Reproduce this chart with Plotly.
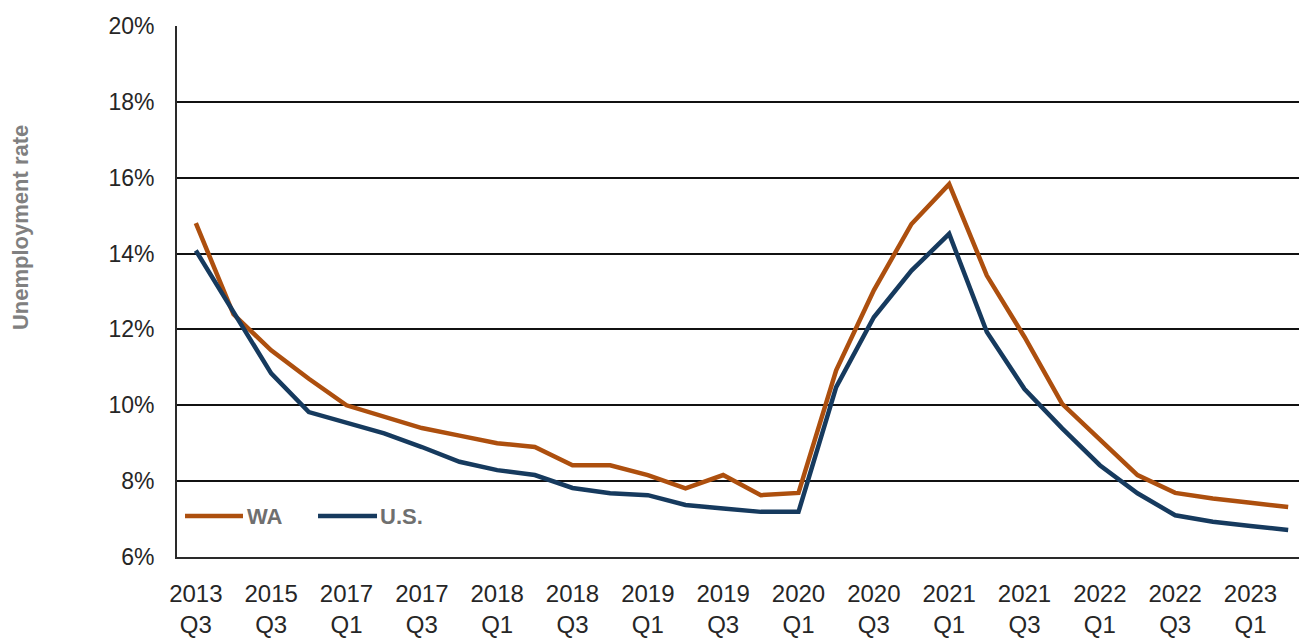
import plotly.graph_objects as go

# Tick labels (shown at every other period)
tick_labels = ["2013<br>Q3", "2015<br>Q3", "2017<br>Q1", "2017<br>Q3", "2018<br>Q1",
               "2018<br>Q3", "2019<br>Q1", "2019<br>Q3", "2020<br>Q1", "2020<br>Q3",
               "2021<br>Q1", "2021<br>Q3", "2022<br>Q1", "2022<br>Q3", "2023<br>Q1"]

# Unemployment rate (%) per period
wa = [14.8, 12.4, 11.45, 10.7, 10.0, 9.7, 9.4, 9.2, 9.0, 8.9,
      8.42, 8.42, 8.16, 7.81, 8.16, 7.63, 7.69, 10.92, 13.03, 14.78,
      15.83, 13.42, 11.8, 10.04, 9.08, 8.16, 7.69, 7.54, 7.43, 7.32]
us = [14.08, 12.45, 10.84, 9.82, 9.53, 9.26, 8.9, 8.51, 8.29, 8.16,
      7.82, 7.68, 7.63, 7.37, 7.28, 7.19, 7.19, 10.48, 12.32, 13.55,
      14.52, 11.93, 10.43, 9.39, 8.42, 7.68, 7.1, 6.93, 6.82, 6.71]

series_names = ["WA", "U.S."]
colors = ["#AD4F0E", "#163A5E"]

x = list(range(len(wa)))
tick_pos = x[::2]

fig = go.Figure()
for name, vals, col in zip(series_names, [wa, us], colors):
    fig.add_trace(go.Scatter(x=x, y=vals, mode="lines", name=name,
                             line=dict(color=col, width=4.5), showlegend=False))

FONT = "Liberation Sans, Arial, sans-serif"

fig.update_layout(
    width=1299, height=636,
    margin=dict(l=169, r=0, t=18, b=87),
    paper_bgcolor="white", plot_bgcolor="white",
    font=dict(family=FONT, size=24, color="#262626"),
    xaxis=dict(range=[-0.5, len(wa) - 0.5], tickmode="array", tickvals=tick_pos,
               ticktext=tick_labels, showgrid=False, zeroline=False,
               showline=True, linecolor="#2a2a2a", linewidth=1.8,
               ticks="", ticklabelstandoff=14, tickfont=dict(size=24, color="#262626")),
    yaxis=dict(range=[6, 20], dtick=2, ticksuffix="%", showgrid=True,
               gridcolor="#111111", gridwidth=1.7, zeroline=False,
               showline=True, linecolor="#2a2a2a", linewidth=1.8,
               ticks="", ticklabelstandoff=16, tickfont=dict(size=23, color="#262626")),
    annotations=[
        dict(text="<b>Unemployment rate</b>", xref="paper", yref="paper",
             x=-0.138, y=0.6196, xanchor="center", yanchor="middle",
             textangle=-90, showarrow=False,
             font=dict(family=FONT, size=22, color="#808080")),
        dict(text="<b>WA</b>", xref="paper", yref="paper", x=0.0600, y=0.0772,
             xanchor="left", yanchor="middle", showarrow=False,
             font=dict(family=FONT, size=22, color="#6f6f6f")),
        dict(text="<b>U.S.</b>", xref="paper", yref="paper", x=0.1778, y=0.0772,
             xanchor="left", yanchor="middle", showarrow=False,
             font=dict(family=FONT, size=22, color="#6f6f6f")),
    ],
    shapes=[
        dict(type="line", xref="paper", yref="paper", x0=0.0071, x1=0.0584,
             y0=0.0772, y1=0.0772, line=dict(color=colors[0], width=4.5)),
        dict(type="line", xref="paper", yref="paper", x0=0.1248, x1=0.177,
             y0=0.0772, y1=0.0772, line=dict(color=colors[1], width=4.5)),
    ],
)

fig.write_html("out.html")
